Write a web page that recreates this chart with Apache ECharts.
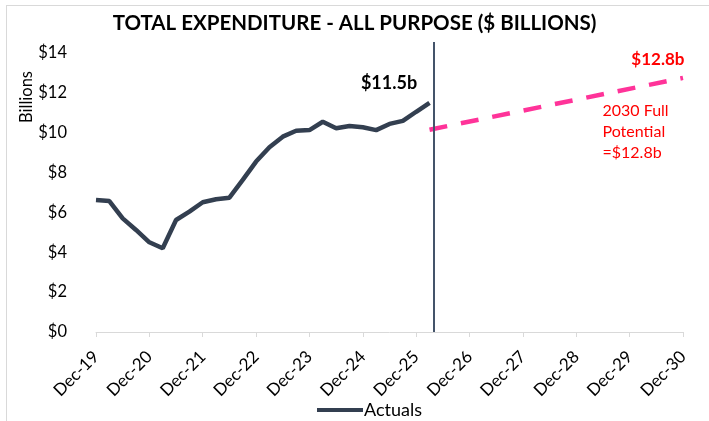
<!DOCTYPE html>
<html>
<head>
<meta charset="utf-8">
<script src="https://cdn.jsdelivr.net/npm/echarts@6/dist/echarts.min.js"></script>
<style>
  html, body { margin: 0; padding: 0; background: #fff; }
  #frame { position: absolute; left: 6px; top: 5px; width: 709px; height: 421px; border: 1px solid #d9d9d9; }
  #chart { position: absolute; left: 0; top: 0; width: 709px; height: 421px; }
</style>
</head>
<body>
<div id="frame"></div>
<div id="chart"></div>
<script>
// quarterly actuals, Dec-19 .. Mar-26 (x = quarters since Dec-19)
const actuals = [6.62, 6.57, 5.70, 5.12, 4.50, 4.20, 5.62, 6.04, 6.51, 6.66, 6.74, 7.63, 8.55,
                 9.27, 9.80, 10.10, 10.13, 10.55, 10.22, 10.34, 10.27, 10.13, 10.44, 10.59, 11.05, 11.50];
// full potential trajectory: start and end (quarter index, value)
const potentialX = [25, 44];
const potentialY = [10.15, 12.75];
const tickLabels = ['Dec-19', 'Dec-20', 'Dec-21', 'Dec-22', 'Dec-23', 'Dec-24', 'Dec-25',
                    'Dec-26', 'Dec-27', 'Dec-28', 'Dec-29', 'Dec-30'];
const cutoffX = 25.3;

const chart = echarts.init(document.getElementById('chart'));
const font = 'Lato, "Open Sans", sans-serif';
const lastActual = actuals.length - 1;

const option = {
  backgroundColor: 'transparent',
  textStyle: { fontFamily: font },
  title: {
    text: 'TOTAL EXPENDITURE - ALL PURPOSE ($ BILLIONS)',
    left: 'center',
    top: 8,
    textStyle: { fontSize: 20.5, fontWeight: 'bold', color: '#000', fontFamily: font }
  },
  legend: {
    data: ['Actuals'],
    left: 312,
    top: 396,
    itemWidth: 46,
    itemHeight: 4,
    itemGap: 4,
    icon: 'rect',
    textStyle: { fontSize: 18, color: '#000', fontFamily: font, padding: [0, 0, 0, -4] }
  },
  // top of the plot reaches a little above $14 so the cut-off line can run up to the title
  grid: { left: 96, right: 26, top: 42, bottom: 89 },
  graphic: [{
    type: 'text',
    left: 18,
    top: 71,
    rotation: Math.PI / 2,
    style: { text: 'Billions', fontSize: 16.5, fill: '#000', fontFamily: font }
  }],
  xAxis: {
    type: 'value',
    min: 0,
    max: 44,
    interval: 4,
    splitLine: { show: false },
    axisLine: { show: true, lineStyle: { color: '#d9d9d9', width: 1 } },
    axisTick: { show: true, length: 5, lineStyle: { color: '#d9d9d9' } },
    axisLabel: {
      rotate: 45,
      fontSize: 17,
      color: '#000',
      margin: 22,
      formatter: v => tickLabels[v / 4]
    }
  },
  yAxis: {
    type: 'value',
    min: 0,
    max: 14.55,
    interval: 2,
    splitLine: { show: false },
    axisLine: { show: false },
    axisTick: { show: false },
    axisLabel: {
      fontSize: 16.5,
      color: '#000',
      margin: 29,
      formatter: v => (v > 14 ? '' : '$' + v)
    }
  },
  series: [{
    name: 'Actuals',
    type: 'line',
    data: actuals.map((v, i) => [i, v]),
    symbol: 'none',
    itemStyle: { color: '#333F50' },
    lineStyle: { color: '#333F50', width: 4.5 },
    markLine: {
      silent: true,
      symbol: 'none',
      label: { show: false },
      lineStyle: { color: '#44546A', width: 2, type: 'solid' },
      data: [{ xAxis: cutoffX }]
    },
    markPoint: {
      symbol: 'circle',
      symbolSize: 1,
      itemStyle: { color: 'transparent' },
      label: {
        show: true,
        position: [-40, -19],
        align: 'center',
        verticalAlign: 'middle',
        formatter: '$' + actuals[lastActual].toFixed(1) + 'b',
        fontSize: 18,
        fontWeight: 'bold',
        color: '#000',
        fontFamily: font
      },
      data: [{ coord: [lastActual, actuals[lastActual]] }]
    },
    z: 3
  }, {
    name: 'Full Potential',
    type: 'line',
    data: potentialX.map((x, i) => [x, potentialY[i]]),
    symbol: 'none',
    lineStyle: { color: '#FF3399', width: 4.5, type: [18, 14] },
    markPoint: {
      symbol: 'circle',
      symbolSize: 1,
      itemStyle: { color: 'transparent' },
      data: [{
        coord: [potentialX[1], potentialY[1]],
        label: {
          show: true,
          position: [2, -18],
          align: 'right',
          verticalAlign: 'middle',
          formatter: '$12.8b',
          fontSize: 17,
          fontWeight: 'bold',
          color: '#FF0000',
          fontFamily: font
        }
      }, {
        coord: [potentialX[1], potentialY[1]],
        label: {
          show: true,
          position: [-80, 54],
          align: 'left',
          verticalAlign: 'middle',
          formatter: '2030 Full\nPotential\n=$12.8b',
          fontSize: 16,
          lineHeight: 21,
          color: '#FF0000',
          fontFamily: font
        }
      }]
    },
    z: 2
  }]
};

chart.setOption(option);
</script>
</body>
</html>
